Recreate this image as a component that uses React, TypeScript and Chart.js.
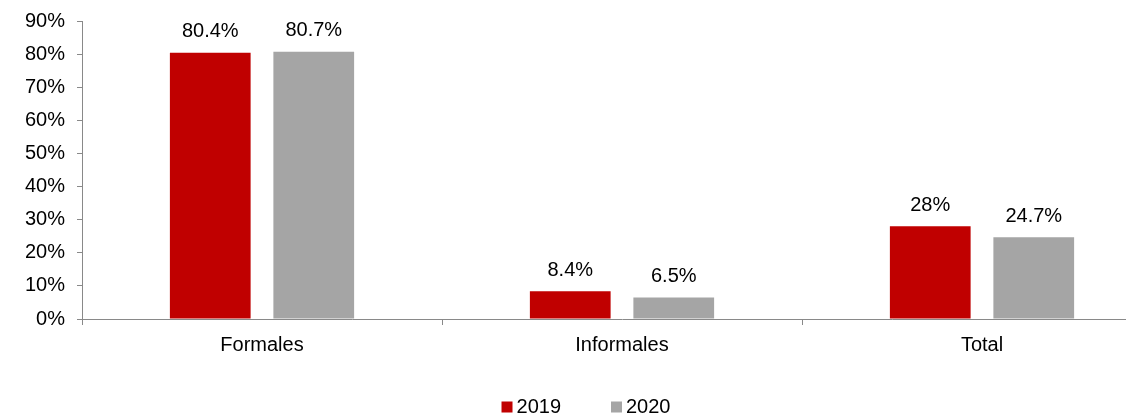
import React, { useEffect, useRef } from 'react';
import { Chart, registerables } from 'chart.js';

Chart.register(...registerables);

const categories = ['Formales', 'Informales', 'Total'];
const seriesNames = ['2019', '2020'];
const values2019 = [80.4, 8.4, 28];
const values2020 = [80.7, 6.5, 24.7];
const seriesColors = ['#C00000', '#A5A5A5'];
const yMin = 0;
const yMax = 90;
const yStep = 10;

const FONT = 'Arial, "Liberation Sans", sans-serif';
const AXIS_COLOR = '#898989';

const dataLabelPlugin = {
  id: 'dataLabels',
  afterDatasetsDraw(chart: any) {
    const ctx = chart.ctx;
    ctx.save();
    ctx.font = `20px ${FONT}`;
    ctx.fillStyle = '#000';
    ctx.textAlign = 'center';
    ctx.textBaseline = 'middle';
    chart.data.datasets.forEach((ds: any, di: number) => {
      const meta = chart.getDatasetMeta(di);
      meta.data.forEach((el: any, i: number) => {
        ctx.fillText(`${ds.data[i]}%`, el.x, el.y - 21);
      });
    });
    ctx.restore();
  },
};

const customLegendPlugin = {
  id: 'customLegend',
  afterDraw(chart: any) {
    const ctx = chart.ctx;
    ctx.save();
    ctx.font = `20px ${FONT}`;
    ctx.textBaseline = 'middle';
    ctx.textAlign = 'left';
    const box = 11;
    const gapText = 4;
    const gapItem = 50;
    const items = chart.data.datasets.map((ds: any) => ({
      label: ds.label,
      color: ds.backgroundColor,
      w: ctx.measureText(ds.label).width,
    }));
    const total = items.reduce((s: number, it: any, i: number) => s + box + gapText + it.w + (i > 0 ? gapItem : 0), 0);
    let x = chart.width / 2 - total / 2;
    const y = chart.chartArea.bottom + 88;
    items.forEach((it: any, i: number) => {
      if (i > 0) x += gapItem;
      ctx.fillStyle = it.color;
      ctx.fillRect(x, y - box / 2, box, box);
      x += box + gapText;
      ctx.fillStyle = '#000';
      ctx.fillText(it.label, x, y);
      x += it.w;
    });
    ctx.restore();
  },
};

export default function App() {
  const canvasRef = useRef<HTMLCanvasElement | null>(null);

  useEffect(() => {
    if (!canvasRef.current) return;
    const chart = new Chart(canvasRef.current, {
      type: 'bar',
      data: {
        labels: categories,
        datasets: [
          { label: seriesNames[0], data: values2019, backgroundColor: seriesColors[0] },
          { label: seriesNames[1], data: values2020, backgroundColor: seriesColors[1] },
        ],
      },
      options: {
        animation: false,
        responsive: false,
        maintainAspectRatio: false,
        layout: { padding: { top: 21, right: 10, left: 0, bottom: 0 } },
        datasets: {
          bar: { categoryPercentage: 0.575, barPercentage: 0.78 },
        },
        plugins: {
          legend: { display: false },
          tooltip: { enabled: false },
        },
        scales: {
          x: {
            offset: true,
            grid: {
              display: true,
              offset: true,
              drawOnChartArea: false,
              drawTicks: true,
              tickLength: 6,
              color: AXIS_COLOR,
            },
            border: { display: true, color: AXIS_COLOR, width: 1 },
            ticks: { color: '#000', font: { family: FONT, size: 20 }, padding: 8 },
            afterFit(scale: any) {
              scale.height = 98;
            },
          },
          y: {
            min: yMin,
            max: yMax,
            grid: {
              display: true,
              drawOnChartArea: false,
              drawTicks: true,
              tickLength: 5,
              color: AXIS_COLOR,
            },
            border: { display: true, color: AXIS_COLOR, width: 1 },
            ticks: {
              stepSize: yStep,
              color: '#000',
              font: { family: FONT, size: 20, lineHeight: 1 },
              padding: 12,
              callback: (v: any) => `${v}%`,
            },
            afterFit(scale: any) {
              scale.width = 82;
              scale.paddingTop = 0;
            },
          },
        },
      },
      plugins: [dataLabelPlugin, customLegendPlugin],
    });
    return () => chart.destroy();
  }, []);

  return (
    <div style={{ position: 'fixed', left: 0, top: 0, width: 1134, height: 417, background: '#fff' }}>
      <div style={{ width: 1126, height: 417, overflow: 'hidden' }}>
        <canvas ref={canvasRef} width={1172} height={417} style={{ display: 'block' }} />
      </div>
    </div>
  );
}
